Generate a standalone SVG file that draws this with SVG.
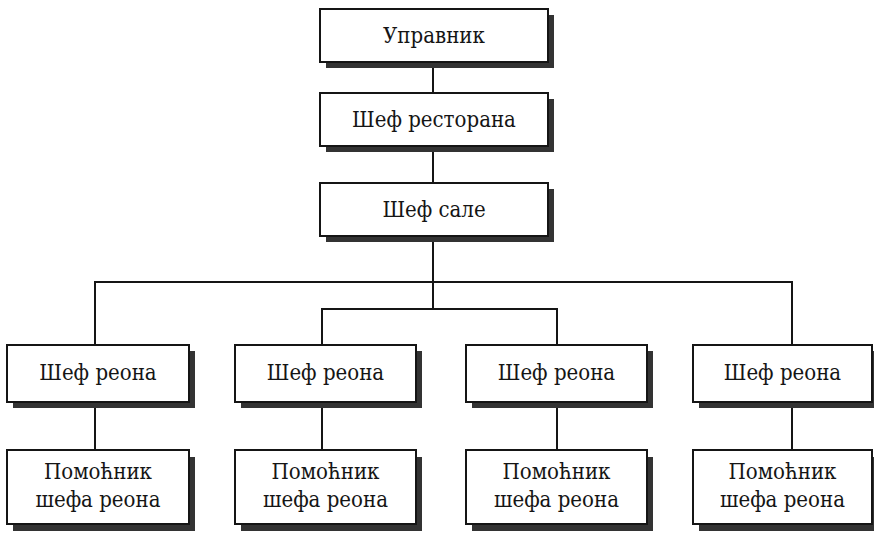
<svg xmlns="http://www.w3.org/2000/svg" width="874" height="533" viewBox="0 0 874 533">
  <style>
    .shadow { fill: #333333; stroke: none; }
    .box { fill: #ffffff; stroke: #151515; stroke-width: 2; }
    .label { font-family: "DejaVu Serif Condensed", "DejaVu Serif", serif; font-stretch: condensed; font-size: 22px; fill: #151515; text-anchor: middle; }
    .link { fill: none; stroke: #151515; stroke-width: 2; }
  </style>
  <rect width="874" height="533" fill="#ffffff"/>

  <!-- connectors -->
  <g id="connectors">
    <path class="link" d="M433 62 V93"/>
    <path class="link" d="M433 146 V183"/>
    <path class="link" d="M433 236 V309"/>
    <path class="link" d="M95 345 V282 H792 V345"/>
    <path class="link" d="M322 345 V309 H557 V345"/>
    <path class="link" d="M95 402 V450"/>
    <path class="link" d="M322 402 V450"/>
    <path class="link" d="M557 402 V450"/>
    <path class="link" d="M792 402 V450"/>
  </g>

  <!-- top chain -->
  <g id="upravnik">
    <rect class="shadow" x="326" y="15" width="228" height="53"/>
    <rect class="box" x="320" y="9" width="228" height="53"/>
    <text class="label" x="434" y="43">Управник</text>
  </g>
  <g id="sef-restorana">
    <rect class="shadow" x="326" y="99" width="228" height="53"/>
    <rect class="box" x="320" y="93" width="228" height="53"/>
    <text class="label" x="434" y="127">Шеф ресторана</text>
  </g>
  <g id="sef-sale">
    <rect class="shadow" x="326" y="189" width="228" height="53"/>
    <rect class="box" x="320" y="183" width="228" height="53"/>
    <text class="label" x="434" y="217">Шеф сале</text>
  </g>

  <!-- area heads -->
  <g id="sef-reona-1">
    <rect class="shadow" x="13" y="351" width="182" height="57"/>
    <rect class="box" x="7" y="345" width="182" height="57"/>
    <text class="label" x="98" y="380">Шеф реона</text>
  </g>
  <g id="sef-reona-2">
    <rect class="shadow" x="241" y="351" width="181" height="57"/>
    <rect class="box" x="235" y="345" width="181" height="57"/>
    <text class="label" x="325.5" y="380">Шеф реона</text>
  </g>
  <g id="sef-reona-3">
    <rect class="shadow" x="472" y="351" width="181" height="57"/>
    <rect class="box" x="466" y="345" width="181" height="57"/>
    <text class="label" x="556.5" y="380">Шеф реона</text>
  </g>
  <g id="sef-reona-4">
    <rect class="shadow" x="699" y="351" width="179" height="57"/>
    <rect class="box" x="693" y="345" width="179" height="57"/>
    <text class="label" x="782.5" y="380">Шеф реона</text>
  </g>

  <!-- assistants -->
  <g id="pomocnik-1">
    <rect class="shadow" x="13" y="457" width="182" height="74"/>
    <rect class="box" x="7" y="450" width="182" height="74"/>
    <text class="label" x="98" y="479">Помоћник</text>
    <text class="label" x="98" y="507">шефа реона</text>
  </g>
  <g id="pomocnik-2">
    <rect class="shadow" x="241" y="457" width="181" height="74"/>
    <rect class="box" x="235" y="450" width="181" height="74"/>
    <text class="label" x="325.5" y="479">Помоћник</text>
    <text class="label" x="325.5" y="507">шефа реона</text>
  </g>
  <g id="pomocnik-3">
    <rect class="shadow" x="472" y="457" width="181" height="74"/>
    <rect class="box" x="466" y="450" width="181" height="74"/>
    <text class="label" x="556.5" y="479">Помоћник</text>
    <text class="label" x="556.5" y="507">шефа реона</text>
  </g>
  <g id="pomocnik-4">
    <rect class="shadow" x="699" y="457" width="179" height="74"/>
    <rect class="box" x="693" y="450" width="179" height="74"/>
    <text class="label" x="782.5" y="479">Помоћник</text>
    <text class="label" x="782.5" y="507">шефа реона</text>
  </g>
</svg>
